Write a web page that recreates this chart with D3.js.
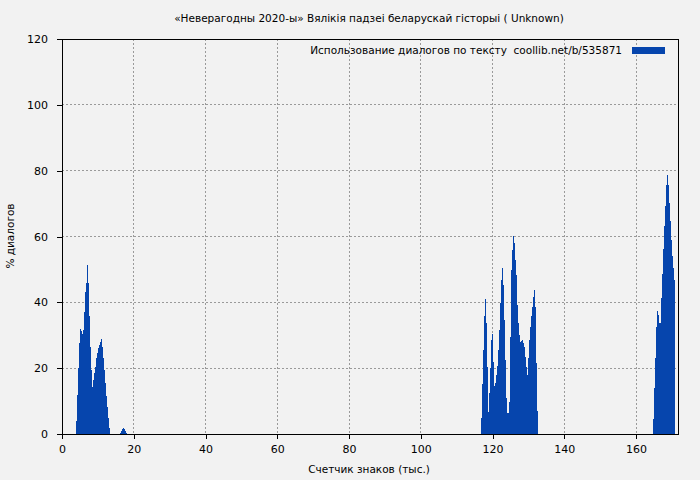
<!DOCTYPE html>
<html>
<head>
<meta charset="utf-8">
<script src="https://cdn.jsdelivr.net/npm/d3@7"></script>
<style>
  html, body { margin: 0; padding: 0; background: #f2f2f2; }
  svg { display: block; }
  text { font-family: "DejaVu Sans", sans-serif; fill: #000; }
</style>
</head>
<body>
<svg id="chart" width="700" height="480"></svg>
<script>
// ---- data (thousands of characters vs % dialogue) ----
const title = "«Неверагодны 2020-ы» Вялікія падзеі беларускай гісторыі ( Unknown)";
const legendLabel = "Использование диалогов по тексту\u00A0 coollib.net/b/535871";
const xLabel = "Счетчик знаков (тыс.)";
const yLabel = "% диалогов";
const xTicks = [0, 20, 40, 60, 80, 100, 120, 140, 160];
const yTicks = [0, 20, 40, 60, 80, 100, 120];
const binWidth = 0.2788;

// segment start positions (thousands of characters)
const segmentStarts = [3.90, 16.17, 116.79, 164.74];
// values per bin in each segment
const segment1 = [4.0, 11.9, 20, 27.6, 31.9, 31.3, 30.4, 31.6, 37.2, 43, 46, 51.4, 46, 36, 26.5, 19.4, 14.4,
  16.4, 18.5, 20.5, 23, 24.6, 26, 27, 28, 28.9, 26.5, 23, 19.4, 15.4, 11.4, 8.3, 4.8, 1.8];
const segment2 = [0.3, 0.9, 1.5, 1.8, 1.5, 0.9, 0.3];
const segment3 = [4.8, 15.2, 25.5, 35.9, 41, 33.6, 20.5, 6.8, 12.4, 20, 28.6, 30.5, 22, 14.6, 15.4, 17.9,
  20.7, 25.5, 31.6, 39.9, 46.8, 50.4, 45.3, 34.6, 22.5, 10.8, 6.5, 6.3, 9.8, 29.6, 49.8, 55.9, 60.2, 57.9,
  52.9, 48.3, 39.2, 33.6, 30.1, 28, 28.4, 28.6, 27.6, 26.5, 23.5, 20.5, 17.9, 23, 28.6, 32.4, 35.7, 38.7,
  41.7, 43.6, 38.7, 21.5, 7.1];
const segment4 = [4.6, 13.9, 23, 32.6, 37.4, 36.2, 33.8, 33.8, 41.4, 48.6, 56.2, 63.2, 69.4, 75.5, 78.7,
  75.7, 70.3, 64.6, 59, 54.1, 50.4, 46.8];
const segments = [segment1, segment2, segment3, segment4];

const bins = [];
segments.forEach((vals, s) => {
  vals.forEach((v, i) => bins.push({ x: segmentStarts[s] + i * binWidth, v }));
});

// ---- layout ----
const svg = d3.select("#chart");
const mLeft = 62, mRight = 678, mTop = 39, mBottom = 434;
const x = d3.scaleLinear().domain([0, 171.7]).range([mLeft, mRight]);
const y = d3.scaleLinear().domain([0, 120]).range([mBottom, mTop]);

svg.append("rect").attr("width", 700).attr("height", 480).attr("fill", "#f2f2f2");

// grid
const grid = svg.append("g").attr("stroke", "#9a9a9a").attr("stroke-dasharray", "2,2")
  .attr("stroke-width", 1).attr("shape-rendering", "crispEdges");
xTicks.filter(t => t > 0).forEach(t => {
  grid.append("line").attr("x1", x(t)).attr("x2", x(t)).attr("y1", mTop).attr("y2", mBottom);
});
yTicks.filter(t => t > 0 && t < 120).forEach(t => {
  grid.append("line").attr("x1", mLeft).attr("x2", mRight).attr("y1", y(t)).attr("y2", y(t));
});

// bars
svg.append("g").selectAll("rect").data(bins).join("rect")
  .attr("x", d => x(d.x))
  .attr("width", d => x(d.x + binWidth) - x(d.x) + 0.3)
  .attr("y", d => y(d.v))
  .attr("height", d => y(0) - y(d.v))
  .attr("fill", "#0645ad")
  .attr("shape-rendering", "crispEdges");

// axes
const xAxis = svg.append("g").attr("transform", `translate(0,${mBottom})`)
  .call(d3.axisBottom(x).tickValues(xTicks).tickSize(5).tickPadding(6).tickFormat(d3.format("d")));
const yAxis = svg.append("g").attr("transform", `translate(${mLeft},0)`)
  .call(d3.axisLeft(y).tickValues(yTicks).tickSize(5).tickPadding(9).tickFormat(d3.format("d")));
[xAxis, yAxis].forEach(a => {
  a.select(".domain").remove();
  a.selectAll("line").attr("stroke", "#000").attr("shape-rendering", "crispEdges");
  a.selectAll("text").attr("font-size", 11).attr("font-family", "DejaVu Sans, sans-serif").attr("fill", "#000");
});

// frame
svg.append("rect").attr("x", mLeft).attr("y", mTop).attr("width", mRight - mLeft).attr("height", mBottom - mTop)
  .attr("fill", "none").attr("stroke", "#000").attr("stroke-width", 1).attr("shape-rendering", "crispEdges");

// title
svg.append("text").attr("x", 369).attr("y", 22).attr("text-anchor", "middle")
  .attr("font-size", 10.5).text(title);

// legend
svg.append("text").attr("x", 622).attr("y", 54).attr("text-anchor", "end")
  .attr("font-size", 10.5).text(legendLabel);
svg.append("rect").attr("x", 632).attr("y", 47).attr("width", 33).attr("height", 7).attr("fill", "#0645ad");

// axis labels
svg.append("text").attr("x", 369).attr("y", 473).attr("text-anchor", "middle")
  .attr("font-size", 10.5).text(xLabel);
svg.append("text").attr("transform", "translate(14,236) rotate(-90)").attr("text-anchor", "middle")
  .attr("font-size", 10.5).text(yLabel);
</script>
</body>
</html>
